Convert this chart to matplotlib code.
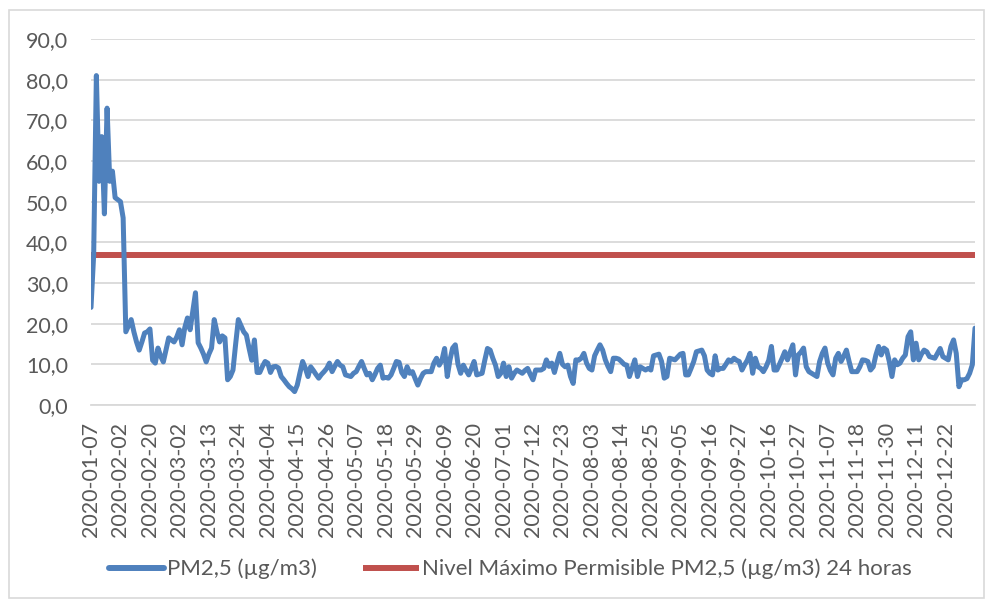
import matplotlib
matplotlib.use("Agg")
import matplotlib.pyplot as plt
from matplotlib.patches import Rectangle
from matplotlib.ticker import FuncFormatter

# ---- data ----
pm25 = [
    24, 37, 81, 55, 66, 47, 73, 55, 57.5, 51,
    50.5, 50, 46, 18, 19.5, 21, 18, 15.5, 13.5, 15.5,
    17.7, 18, 18.7, 11, 10.3, 14, 12, 10.6, 13.5, 16.5,
    16, 15.5, 16.7, 18.5, 14.8, 19, 21.4, 18.5, 23, 27.6,
    15.3, 14, 12.5, 10.6, 12.5, 14, 21, 18, 15.5, 17,
    16.5, 6.2, 7, 8.6, 15, 21, 19.5, 18, 17.2, 14,
    11, 16, 8, 8, 9.5, 10.7, 10.3, 8, 9.4, 9.5,
    9.1, 7, 6.2, 5.3, 4.5, 4, 3.3, 4.9, 7.9, 10.7,
    9.1, 7, 9.4, 8.5, 7.5, 6.6, 7.5, 8.2, 9, 10.3,
    8.2, 9.5, 10.7, 9.8, 9.4, 7.4, 7.2, 7, 7.8, 8.2,
    9.5, 10.7, 9, 7.4, 7.8, 6.2, 7.5, 9, 9.8, 6.6,
    6.8, 6.6, 7.4, 9, 10.7, 10.5, 8, 7, 9.4, 7.8,
    8.2, 6.5, 4.9, 6.5, 7.8, 8.2, 8.2, 8.2, 10.3, 11.5,
    9.8, 11, 13.9, 7, 11.1, 14, 14.8, 10, 7.8, 9.8,
    8.5, 7.4, 9, 10.7, 7.4, 7.6, 7.8, 11, 13.9, 13.5,
    11.5, 9.8, 7, 7.8, 10.3, 7, 9.4, 6.6, 7.8, 8.6,
    8.2, 7.8, 8.5, 9, 7.5, 6.2, 8.6, 8.6, 8.6, 9,
    11.1, 9.5, 10.3, 8, 10.5, 12.7, 10, 9.4, 9.8, 7,
    5.3, 11.1, 11, 11.5, 12.7, 10.3, 9, 8.6, 12.1, 13.5,
    14.8, 13.5, 11.1, 9.5, 8.2, 11.5, 11.5, 11.3, 10.7, 10,
    9.8, 7, 9, 11.1, 7, 9.4, 9, 8.6, 9, 8.6,
    12.1, 12.3, 12.5, 10.7, 6.6, 7, 11.5, 11.3, 11.1, 11.8,
    12.5, 12.7, 7.4, 7.4, 9, 10.7, 13.1, 13.3, 13.5, 12.1,
    8.6, 7.8, 7.4, 12.1, 8.6, 9, 9, 10, 11.1, 10.7,
    11.5, 11, 10.7, 8.6, 9.9, 11, 12.7, 7.8, 11.5, 9.4,
    9, 8.2, 9.4, 11, 14.4, 8.6, 8.6, 10, 11.5, 13.1,
    11.1, 13, 14.8, 7.4, 12.3, 13, 14, 9.4, 8.2, 7.8,
    7.4, 7, 10.7, 12.7, 14, 10.3, 8.5, 7.4, 11.5, 12.7,
    10.7, 12, 13.5, 10.7, 8.2, 8.2, 8.2, 9.4, 11.1, 11,
    10.7, 8.6, 9.4, 12.3, 14.4, 12.3, 14, 13.5, 10.7, 7,
    11.1, 9.9, 10.3, 11.5, 12.3, 16.8, 18, 11.1, 15.2, 11.1,
    12.5, 13.5, 13.1, 11.9, 11.7, 11.5, 12.7, 13.9, 11.9, 11.5,
    11.1, 14.4, 16, 12.7, 4.5, 6.2, 6.2, 6.5, 7.8, 9.9, 18.9,
]
limit_value = 37.0
tick_labels = [
    "2020-01-07", "2020-02-02", "2020-02-20", "2020-03-02", "2020-03-13",
    "2020-03-24", "2020-04-04", "2020-04-15", "2020-04-26", "2020-05-07",
    "2020-05-18", "2020-05-29", "2020-06-09", "2020-06-20", "2020-07-01",
    "2020-07-12", "2020-07-23", "2020-08-03", "2020-08-14", "2020-08-25",
    "2020-09-05", "2020-09-16", "2020-09-27", "2020-10-16", "2020-10-27",
    "2020-11-07", "2020-11-18", "2020-11-30", "2020-12-11", "2020-12-22",
]
label_step = 11
series_names = ["PM2,5 (µg/m3)", "Nivel Máximo Permisible PM2,5 (µg/m3) 24 horas"]
yticks = [0, 10, 20, 30, 40, 50, 60, 70, 80, 90]

# ---- style ----
plt.rcParams['font.family'] = ['Lato', 'DejaVu Sans']
TXT = "#595959"
BLUE = "#4F81BD"
RED = "#C0504D"
GRID = "#D9D9D9"
FS = 15.5

W, H = 990, 603
fig = plt.figure(figsize=(W / 100, H / 100), dpi=100)
left, right, top, bottom = 91, 975, 39, 405
ax = fig.add_axes([left / W, 1 - bottom / H, (right - left) / W, (bottom - top) / H])

x = list(range(len(pm25)))
ax.plot(x, [limit_value] * len(pm25), color=RED, lw=4.3, solid_capstyle='butt',
        label=series_names[1], zorder=3)
ax.plot(x, pm25, color=BLUE, lw=3.6, solid_joinstyle='round', solid_capstyle='round',
        label=series_names[0], zorder=4)

ax.set_xlim(0, len(pm25) - 1)
ax.set_ylim(0, 90)
ax.set_yticks(yticks)
ax.yaxis.set_major_formatter(FuncFormatter(lambda v, p: f"{v:.1f}".replace(".", ",")))
ax.set_xticks([i * label_step for i in range(len(tick_labels))])
ax.set_xticklabels(tick_labels, rotation=90, va='top', ha='center')

ax.grid(axis='y', color=GRID, lw=1.3, zorder=0)
for s in ['top', 'right', 'left']:
    ax.spines[s].set_visible(False)
ax.spines['bottom'].set_color(GRID)
ax.spines['bottom'].set_linewidth(1.3)
ax.tick_params(axis='both', length=0, colors=TXT, labelsize=FS)
ax.tick_params(axis='y', pad=16.5)
ax.tick_params(axis='x', pad=12)

handles, labels = ax.get_legend_handles_labels()
handles = handles[::-1]
labels = labels[::-1]
leg = fig.legend(handles, labels, loc='center', bbox_to_anchor=(510 / W, 1 - 569 / H),
                 ncol=2, frameon=False, fontsize=16, handlelength=2.5,
                 handletextpad=0.12, columnspacing=2.1, labelcolor=TXT)
for h in leg.get_lines():
    h.set_linewidth(4.3)

fig.patches.append(Rectangle((9 / W, 1 - 598 / H), (984 - 9) / W, (598 - 10) / H,
                             transform=fig.transFigure, fill=False, edgecolor="#D9D9D9",
                             lw=1.2, zorder=0))

fig.savefig("out.png", dpi=100)
